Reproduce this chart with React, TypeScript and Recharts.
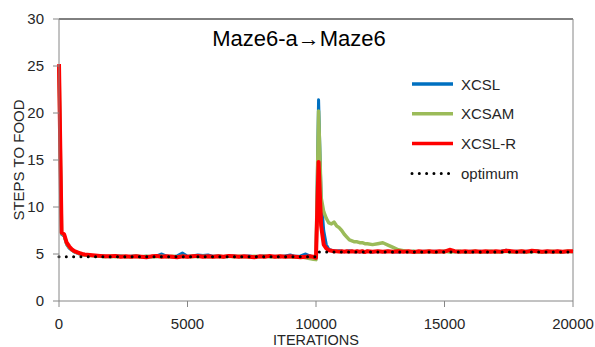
import React from 'react';
import { LineChart, Line, XAxis, YAxis, ReferenceLine } from 'recharts';

const iterations = [
  0, 100, 200, 300, 400, 500, 600, 700, 800, 900,
  1000, 1200, 1400, 1600, 1800, 2000, 2200, 2400, 2600, 2800,
  3000, 3200, 3400, 3600, 3800, 4000, 4200, 4400, 4600, 4800,
  5000, 5200, 5400, 5600, 5800, 6000, 6200, 6400, 6600, 6800,
  7000, 7200, 7400, 7600, 7800, 8000, 8200, 8400, 8600, 8800,
  9000, 9200, 9400, 9600, 9800, 9900, 10000, 10100, 10200, 10300,
  10400, 10500, 10600, 10700, 10800, 10900, 11000, 11100, 11200, 11300,
  11400, 11500, 11600, 11700, 11800, 11900, 12000, 12200, 12400, 12600,
  12800, 13000, 13200, 13400, 13600, 13800, 14000, 14200, 14400, 14600,
  14800, 15000, 15200, 15400, 15600, 15800, 16000, 16200, 16400, 16600,
  16800, 17000, 17200, 17400, 17600, 17800, 18000, 18200, 18400, 18600,
  18800, 19000, 19200, 19400, 19600, 19800, 20000,
];

const xcsl = [
  25.0, 7.1, 6.9, 6.0, 5.6, 5.4, 5.2, 5.1, 5.0, 4.95,
  4.9, 4.85, 4.8, 4.8, 4.75, 4.7, 4.75, 4.8, 4.7, 4.75,
  4.8, 4.7, 4.75, 4.7, 4.8, 5.0, 4.75, 4.7, 4.8, 5.1,
  4.75, 4.8, 4.9, 4.85, 4.9, 4.75, 4.8, 4.7, 4.75, 4.8,
  4.7, 4.75, 4.8, 4.7, 4.75, 4.8, 4.7, 4.75, 4.7, 4.8,
  4.9, 4.75, 4.8, 5.0, 4.75, 4.7, 4.6, 21.4, 11.0, 7.5,
  6.0, 5.5, 5.4, 5.35, 5.3, 5.35, 5.3, 5.25, 5.3, 5.35,
  5.3, 5.25, 5.3, 5.2, 5.3, 5.25, 5.3, 5.2, 5.3, 5.25,
  5.3, 5.25, 5.2, 5.3, 5.25, 5.3, 5.2, 5.3, 5.25, 5.3,
  5.25, 5.3, 5.35, 5.25, 5.3, 5.2, 5.3, 5.25, 5.3, 5.2,
  5.3, 5.25, 5.3, 5.4, 5.25, 5.3, 5.2, 5.3, 5.25, 5.35,
  5.2, 5.3, 5.25, 5.3, 5.2, 5.3, 5.25,
];

const xcsam = [
  25.0, 7.2, 7.0, 6.1, 5.7, 5.45, 5.25, 5.15, 5.05, 4.95,
  4.9, 4.85, 4.8, 4.75, 4.7, 4.75, 4.7, 4.75, 4.7, 4.7,
  4.75, 4.7, 4.75, 4.7, 4.7, 4.75, 4.7, 4.75, 4.7, 4.75,
  4.7, 4.75, 4.7, 4.75, 4.7, 4.7, 4.75, 4.7, 4.75, 4.7,
  4.75, 4.7, 4.7, 4.75, 4.7, 4.75, 4.7, 4.7, 4.75, 4.7,
  4.7, 4.65, 4.7, 4.6, 4.5, 4.45, 4.4, 20.2, 11.0, 9.5,
  8.8, 8.3, 8.2, 8.4, 8.0, 7.8, 7.5, 7.1, 6.8, 6.5,
  6.4, 6.3, 6.3, 6.2, 6.2, 6.1, 6.1, 6.0, 6.1, 6.2,
  5.95, 5.7, 5.45, 5.35, 5.25, 5.3, 5.2, 5.25, 5.3, 5.2,
  5.25, 5.3, 5.2, 5.25, 5.3, 5.2, 5.25, 5.3, 5.2, 5.25,
  5.3, 5.2, 5.25, 5.3, 5.2, 5.25, 5.3, 5.2, 5.25, 5.3,
  5.2, 5.25, 5.3, 5.2, 5.25, 5.3, 5.25,
];

const xcslR = [
  25.2, 7.3, 7.1, 6.2, 5.8, 5.5, 5.3, 5.2, 5.1, 5.0,
  4.95, 4.9, 4.85, 4.8, 4.75, 4.75, 4.8, 4.7, 4.75, 4.7,
  4.75, 4.7, 4.65, 4.75, 4.8, 4.7, 4.75, 4.7, 4.65, 4.75,
  4.7, 4.75, 4.8, 4.7, 4.75, 4.7, 4.75, 4.7, 4.8, 4.75,
  4.7, 4.75, 4.7, 4.65, 4.75, 4.7, 4.8, 4.7, 4.75, 4.7,
  4.75, 4.7, 4.65, 4.7, 4.75, 4.7, 4.6, 14.8, 8.0, 6.0,
  5.6, 5.4, 5.35, 5.3, 5.3, 5.25, 5.3, 5.25, 5.3, 5.25,
  5.3, 5.25, 5.3, 5.25, 5.3, 5.2, 5.3, 5.25, 5.3, 5.25,
  5.3, 5.25, 5.3, 5.25, 5.3, 5.2, 5.3, 5.25, 5.3, 5.25,
  5.3, 5.25, 5.45, 5.3, 5.25, 5.3, 5.25, 5.3, 5.25, 5.3,
  5.25, 5.3, 5.25, 5.35, 5.3, 5.25, 5.3, 5.25, 5.35, 5.3,
  5.25, 5.3, 5.25, 5.3, 5.25, 5.3, 5.3,
];

const optimum = [
  4.7, 4.7, 4.7, 4.7, 4.7, 4.7, 4.7, 4.7, 4.7, 4.7,
  4.7, 4.7, 4.7, 4.7, 4.7, 4.7, 4.7, 4.7, 4.7, 4.7,
  4.7, 4.7, 4.7, 4.7, 4.7, 4.7, 4.7, 4.7, 4.7, 4.7,
  4.7, 4.7, 4.7, 4.7, 4.7, 4.7, 4.7, 4.7, 4.7, 4.7,
  4.7, 4.7, 4.7, 4.7, 4.7, 4.7, 4.7, 4.7, 4.7, 4.7,
  4.7, 4.7, 4.7, 4.7, 4.7, 4.7, 4.7, 5.2, 5.2, 5.2,
  5.2, 5.2, 5.2, 5.2, 5.2, 5.2, 5.2, 5.2, 5.2, 5.2,
  5.2, 5.2, 5.2, 5.2, 5.2, 5.2, 5.2, 5.2, 5.2, 5.2,
  5.2, 5.2, 5.2, 5.2, 5.2, 5.2, 5.2, 5.2, 5.2, 5.2,
  5.2, 5.2, 5.2, 5.2, 5.2, 5.2, 5.2, 5.2, 5.2, 5.2,
  5.2, 5.2, 5.2, 5.2, 5.2, 5.2, 5.2, 5.2, 5.2, 5.2,
  5.2, 5.2, 5.2, 5.2, 5.2, 5.2, 5.2,
];

const xTicks = [0, 5000, 10000, 15000, 20000];
const yTicks = [0, 5, 10, 15, 20, 25, 30];

const seriesInfo = [
  { key: 'xcsl', name: 'XCSL', color: '#0070C0', width: 3, dash: undefined },
  { key: 'xcsam', name: 'XCSAM', color: '#9BBB59', width: 3.5, dash: undefined },
  { key: 'xcslR', name: 'XCSL-R', color: '#FF0000', width: 4, dash: undefined },
  { key: 'optimum', name: 'optimum', color: '#000000', width: 3, dash: '0.01 7.3' },
];

const data = iterations.map((it, i) => ({
  it,
  xcsl: xcsl[i],
  xcsam: xcsam[i],
  xcslR: xcslR[i],
  optimum: optimum[i],
}));

const FONT = '"Liberation Sans", Arial, sans-serif';

export default function App() {
  return (
    <div style={{ position: 'absolute', left: 0, top: 0, width: 595, height: 347, background: '#fff' }}>
      <LineChart width={595} height={347} data={data} margin={{ top: 19, right: 22, left: 0, bottom: 0 }}>
        <XAxis dataKey="it" type="number" domain={[0, 20000]} ticks={xTicks} height={46}
          tickSize={6} tickMargin={11} axisLine={{ stroke: '#868686' }} tickLine={{ stroke: '#868686' }}
          tick={{ fontSize: 15, fill: '#262626', fontFamily: FONT }} interval={0} />
        <YAxis type="number" domain={[0, 30]} ticks={yTicks} width={59} tickSize={6} tickMargin={9}
          axisLine={{ stroke: '#868686' }} tickLine={{ stroke: '#868686' }}
          tick={{ fontSize: 15, fill: '#262626', fontFamily: FONT }} interval={0} />
        <ReferenceLine y={30} stroke="#000" strokeWidth={1} />
        <ReferenceLine x={20000} stroke="#868686" strokeWidth={1} />
        {seriesInfo.map((s) => (
          <Line key={s.key} dataKey={s.key} name={s.name} type="linear" stroke={s.color} strokeWidth={s.width}
            strokeDasharray={s.dash} strokeLinecap={s.dash ? 'round' : 'butt'} strokeLinejoin="round"
            dot={false} activeDot={false} isAnimationActive={false} />
        ))}
        <g>
          {seriesInfo.map((s, i) => {
            const y = 84 + i * 29.8;
            return (
              <g key={s.key}>
                <line x1={412} x2={453} y1={y} y2={y} stroke={s.color} strokeWidth={s.key === 'optimum' ? 3 : 3.5}
                  strokeDasharray={s.dash} strokeLinecap={s.dash ? 'round' : 'butt'} />
                <text x={461} y={y} dominantBaseline="central" fontSize={15} fontFamily={FONT} fill="#262626">{s.name}</text>
              </g>
            );
          })}
        </g>
        <text x={299} y={46} textAnchor="middle" fontSize={22} fontFamily={FONT} fill="#000">Maze6-a→Maze6</text>
        <text x={316} y={344.5} textAnchor="middle" fontSize={14.5} fontFamily={FONT} fill="#262626">ITERATIONS</text>
        <text x={18} y={160} textAnchor="middle" dominantBaseline="central" fontSize={15} fontFamily={FONT}
          fill="#262626" transform="rotate(-90, 18, 160)">STEPS TO FOOD</text>
      </LineChart>
    </div>
  );
}
